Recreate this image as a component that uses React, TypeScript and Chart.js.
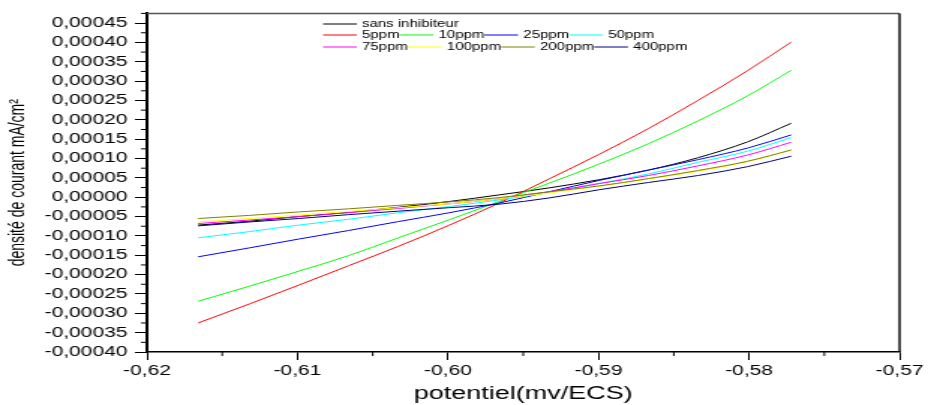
import React, { useEffect, useRef } from "react";
import { Chart, registerables } from "chart.js";

Chart.register(...registerables);

// ---------- data ----------
const potentials = [-0.6166, -0.6132, -0.6099, -0.6066, -0.6033, -0.5999, -0.5966, -0.5933, -0.59, -0.5867, -0.5834, -0.5801, -0.5772];

const sansInhibiteur = [-0.000072, -0.000062, -0.00005, -0.000039, -0.000026, -0.000011, 0.000006, 0.000024, 0.000045, 0.00007, 0.000102, 0.000143, 0.000191];
const ppm5 = [-0.000325, -0.000276, -0.000227, -0.000177, -0.000127, -0.000072, -0.000015, 0.000047, 0.00011, 0.000177, 0.00025, 0.000327, 0.000401];
const ppm10 = [-0.000269, -0.00023, -0.000191, -0.000151, -0.000105, -0.000058, -0.000011, 0.000036, 0.000085, 0.000138, 0.000197, 0.000262, 0.000328];
const ppm25 = [-0.000154, -0.000131, -0.000108, -0.000086, -0.000063, -0.00004, -0.000015, 0.000014, 0.000043, 0.00007, 0.000097, 0.000127, 0.000161];
const ppm50 = [-0.000105, -0.000089, -0.000072, -0.000057, -0.00004, -0.000024, -0.000007, 0.000012, 0.000035, 0.00006, 0.00009, 0.000119, 0.000154];
const ppm75 = [-0.000068, -0.000059, -0.00005, -0.00004, -0.000029, -0.000017, -0.000004, 0.000014, 0.000035, 0.000056, 0.000081, 0.000109, 0.000142];
const ppm100 = [-0.000064, -0.000055, -0.000046, -0.000037, -0.000027, -0.000017, -0.000004, 0.000011, 0.000028, 0.000047, 0.000067, 0.000092, 0.000122];
const ppm200 = [-0.000055, -0.000047, -0.000038, -0.00003, -0.000021, -0.000012, -0.000001, 0.000014, 0.000029, 0.000048, 0.000069, 0.000093, 0.000122];
const ppm400 = [-0.000074, -0.000064, -0.000055, -0.000045, -0.000036, -0.000027, -0.000018, -0.000002, 0.000019, 0.000038, 0.000056, 0.000079, 0.000106];

const seriesLabels = ["sans inhibiteur", "5ppm", "10ppm", "25ppm", "50ppm", "75ppm", "100ppm", "200ppm", "400ppm"];
const seriesValues = [sansInhibiteur, ppm5, ppm10, ppm25, ppm50, ppm75, ppm100, ppm200, ppm400];
const seriesColors = ["#000000", "#ff0000", "#00ff00", "#0000ff", "#00ffff", "#ff00ff", "#ffff00", "#808000", "#000080"];

const xTicks = [-0.62, -0.61, -0.6, -0.59, -0.58, -0.57];
const xTickLabels = ["-0,62", "-0,61", "-0,60", "-0,59", "-0,58", "-0,57"];
const yTicks = [0.00045, 0.0004, 0.00035, 0.0003, 0.00025, 0.0002, 0.00015, 0.0001, 0.00005, 0, -0.00005, -0.0001, -0.00015, -0.0002, -0.00025, -0.0003, -0.00035, -0.0004];
const yTickLabels = ["0,00045", "0,00040", "0,00035", "0,00030", "0,00025", "0,00020", "0,00015", "0,00010", "0,00005", "0,00000", "-0,00005", "-0,00010", "-0,00015", "-0,00020", "-0,00025", "-0,00030", "-0,00035", "-0,00040"];

const xTitle = "potentiel(mv/ECS)";
const yTitle = "densité de courant mA/cm²";

// ---------- layout ----------
const CW = 619;
const CH = 405;
const SX = 928 / CW;
const FONT = "'Liberation Sans', Arial, sans-serif";

const legendRows = [[0], [1, 2, 3, 4], [5, 6, 7, 8]];
const legendRowY = [24, 35, 47];

const framePlugin = {
  id: "frameMinorLegend",
  afterDraw(chart: any) {
    const { ctx, chartArea } = chart;
    const { left, right, top, bottom } = chartArea;
    const xs = chart.scales.x;
    const ys = chart.scales.y;
    ctx.save();
    // top & right frame
    ctx.lineWidth = 1.5;
    ctx.strokeStyle = "#555";
    ctx.beginPath();
    ctx.moveTo(left, top);
    ctx.lineTo(right, top);
    ctx.stroke();
    ctx.strokeStyle = "#111";
    ctx.beginPath();
    ctx.moveTo(right, top);
    ctx.lineTo(right, bottom);
    ctx.stroke();

    // minor ticks
    ctx.strokeStyle = "#000";
    ctx.lineWidth = 1;
    const yMinor: number[] = [];
    for (let i = 0; i < yTicks.length - 1; i++) yMinor.push((yTicks[i] + yTicks[i + 1]) / 2);
    yMinor.push(yTicks[0] + (yTicks[0] - yTicks[1]) / 2);
    yMinor.forEach((v) => {
      const py = ys.getPixelForValue(v);
      ctx.beginPath();
      ctx.moveTo(left - 4, py);
      ctx.lineTo(left, py);
      ctx.stroke();
    });
    for (let i = 0; i < xTicks.length - 1; i++) {
      const px = xs.getPixelForValue((xTicks[i] + xTicks[i + 1]) / 2);
      ctx.beginPath();
      ctx.moveTo(px, bottom);
      ctx.lineTo(px, bottom + 4);
      ctx.stroke();
    }

    // legend
    ctx.font = `10px ${FONT}`;
    ctx.textBaseline = "middle";
    ctx.textAlign = "left";
    const ds = chart.data.datasets;
    legendRows.forEach((row, r) => {
      let x = 215.5;
      const y = legendRowY[r];
      row.forEach((i) => {
        ctx.strokeStyle = ds[i].borderColor;
        ctx.lineWidth = 1;
        ctx.beginPath();
        ctx.moveTo(x, y);
        ctx.lineTo(x + 22.5, y);
        ctx.stroke();
        ctx.fillStyle = "#000";
        ctx.fillText(ds[i].label, x + 26, y + 0.5);
        x += 26 + ctx.measureText(ds[i].label).width;
      });
    });
    ctx.restore();
  },
};

export default function App() {
  const canvasRef = useRef<HTMLCanvasElement | null>(null);

  useEffect(() => {
    if (!canvasRef.current) return;
    Chart.defaults.font.family = FONT;
    const datasets = seriesValues.map((vals, i) => ({
      label: seriesLabels[i],
      data: vals.map((v, j) => ({ x: potentials[j], y: v })),
      borderColor: seriesColors[i],
      backgroundColor: seriesColors[i],
      borderWidth: 1,
      pointRadius: 0,
      fill: false,
      cubicInterpolationMode: "monotone" as const,
      order: seriesValues.length - i,
    }));

    const chart = new Chart(canvasRef.current, {
      type: "line",
      data: { datasets },
      options: {
        animation: false,
        responsive: false,
        devicePixelRatio: 1,
        layout: { padding: { left: 0, right: 17, top: 10, bottom: 0 } },
        plugins: { legend: { display: false }, tooltip: { enabled: false } },
        scales: {
          x: {
            type: "linear",
            min: -0.62,
            max: -0.57,
            afterBuildTicks: (a: any) => {
              a.ticks = xTicks.map((v) => ({ value: v }));
            },
            afterFit: (a: any) => {
              a.height = 53;
            },
            ticks: {
              callback: (v: any) => {
                const k = xTicks.findIndex((t) => Math.abs(t - Number(v)) < 1e-9);
                return k >= 0 ? xTickLabels[k] : "";
              },
              autoSkip: false,
              maxRotation: 0,
              color: "#000",
              font: { size: 14, family: FONT },
              padding: 3,
            },
            grid: { drawOnChartArea: false, drawTicks: true, tickLength: 8, tickColor: "#000", tickWidth: 1 },
            border: { display: true, color: "#000", width: 1.5 },
            title: { display: true, text: xTitle, color: "#000", font: { size: 18, family: FONT }, padding: { top: 0, bottom: 0 } },
          },
          y: {
            type: "linear",
            min: -0.0004,
            max: 0.000475,
            afterBuildTicks: (a: any) => {
              a.ticks = yTicks.map((v) => ({ value: v }));
            },
            afterFit: (a: any) => {
              a.width = 98;
            },
            ticks: {
              callback: (v: any) => {
                const k = yTicks.findIndex((t) => Math.abs(t - Number(v)) < 1e-10);
                return k >= 0 ? yTickLabels[k] : "";
              },
              autoSkip: false,
              color: "#000",
              font: { size: 14, family: FONT },
              padding: 5,
            },
            grid: { drawOnChartArea: false, drawTicks: true, tickLength: 8, tickColor: "#000", tickWidth: 1 },
            border: { display: true, color: "#000", width: 2 },
            title: { display: true, text: yTitle, color: "#000", font: { size: 14, family: FONT }, padding: { top: 4, bottom: 0 } },
          },
        },
      },
      plugins: [framePlugin],
    });
    return () => chart.destroy();
  }, []);

  return (
    <div style={{ position: "fixed", left: 0, top: 0, width: 928, height: 405, overflow: "hidden", background: "#fff" }}>
      <div style={{ width: CW, height: CH, transform: `scaleX(${SX})`, transformOrigin: "0 0" }}>
        <canvas ref={canvasRef} width={CW} height={CH} />
      </div>
    </div>
  );
}
